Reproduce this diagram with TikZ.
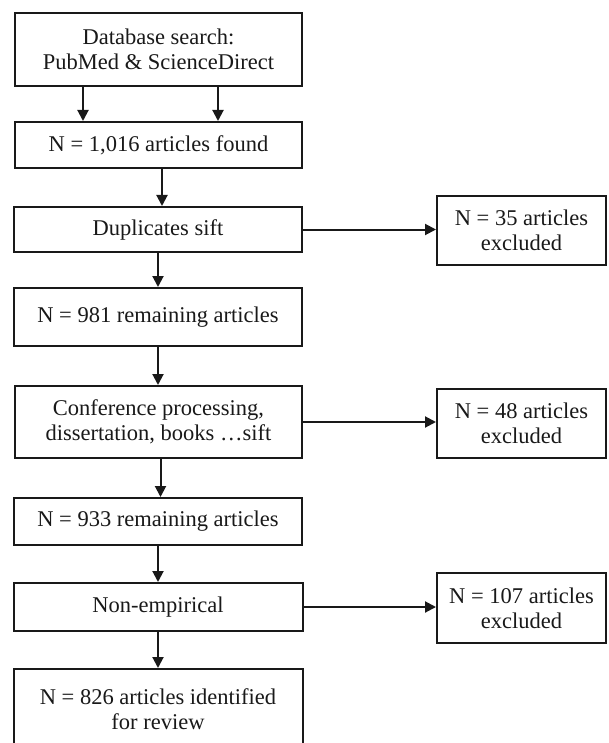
\documentclass[tikz,border=0pt]{standalone}
\usepackage{fontspec}
\setmainfont{Liberation Serif}
\usetikzlibrary{arrows.meta}
\begin{document}
\begin{tikzpicture}[x=1pt,y=-1pt,
  box/.style={draw=black!90, line width=2pt, rectangle, align=center, inner sep=0pt,
    font=\fontsize{22.5}{25}\selectfont, text=black!90},
  arr/.style={draw=black!90, line width=2pt, -{Triangle[length=11pt,width=11pt]}}]
\useasboundingbox[fill=white] (0,0) rectangle (608,743);
\node[box, minimum width=287pt, minimum height=73pt] (b1) at (158.5,49.5) {Database search:\\PubMed \& ScienceDirect};
\node[box, minimum width=287pt, minimum height=46pt] (b2) at (158.5,145) {N = 1,016 articles found};
\node[box, minimum width=288pt, minimum height=45pt] (b3) at (158,229.5) {Duplicates sift};
\node[box, minimum width=288pt, minimum height=58pt] (b4) at (158,317) {N = 981 remaining articles};
\node[box, minimum width=287pt, minimum height=72pt] (b5) at (158.5,422) {Conference processing,\\dissertation, books \ldots sift};
\node[box, minimum width=288pt, minimum height=47pt] (b6) at (158,521.5) {N = 933 remaining articles};
\node[box, minimum width=289pt, minimum height=48pt] (b7) at (158,607) {Non-empirical};
\node[box, minimum width=289pt, minimum height=80pt] (b8) at (158,709) {N = 826 articles identified\\for review};
\node[box, minimum width=169pt, minimum height=69pt] (r1) at (521.5,230.5) {N = 35 articles\\excluded};
\node[box, minimum width=169pt, minimum height=69pt] (r2) at (521.5,423.5) {N = 48 articles\\excluded};
\node[box, minimum width=169pt, minimum height=70pt] (r3) at (521.5,608) {N = 107 articles\\excluded};
\draw[arr] ([xshift=-75.5pt]b1.south) -- ([xshift=-75.5pt]b2.north);
\draw[arr] ([xshift=59.5pt]b1.south) -- ([xshift=59.5pt]b2.north);
\draw[arr] ([xshift=3.5pt]b2.south) -- ([xshift=3.5pt]b2.south |- b3.north);
\draw[arr] (b3.south) -- (b3.south |- b4.north);
\draw[arr] (b4.south) -- (b4.south |- b5.north);
\draw[arr] ([xshift=2pt]b5.south) -- ([xshift=2pt]b5.south |- b6.north);
\draw[arr] (b6.south) -- (b6.south |- b7.north);
\draw[arr] (b7.south) -- (b7.south |- b8.north);
\draw[arr] (b3.east) -- (b3.east -| r1.west);
\draw[arr] (b5.east) -- (b5.east -| r2.west);
\draw[arr] (b7.east) -- (b7.east -| r3.west);
\end{tikzpicture}
\end{document}
